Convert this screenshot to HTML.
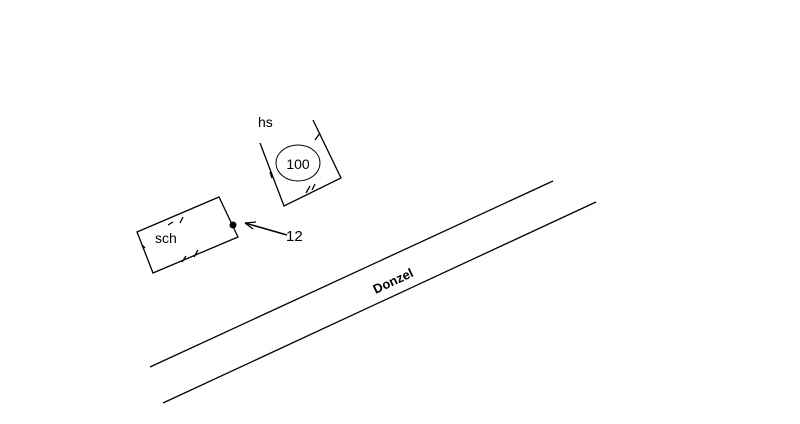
<!DOCTYPE html>
<html><head><style>body{margin:0;background:#fff}</style></head><body>
<svg width="800" height="419" xmlns="http://www.w3.org/2000/svg" font-family="Liberation Sans, sans-serif">
<rect width="800" height="419" fill="#fff"/>
<g stroke="#000" stroke-width="1.3" fill="none">
<line x1="150" y1="367" x2="553" y2="181"/>
<line x1="163" y1="403" x2="596" y2="202"/>
<polygon points="137,232 219,197 238,237 153,273"/>
<polyline points="260,143 284,206 341,178 313,120"/>
<ellipse cx="298" cy="163" rx="22" ry="18" stroke-width="1"/>
<line x1="245" y1="223" x2="287" y2="235" stroke-width="1.5"/>
<path d="M245 223 L256 222 M245 223 L253 229"/>
<path d="M168 225 l5 -3 M180 223 l3 -6 M182 262 l4 -6 M194 257 l4 -7 M142 245 l3 3 M306 193 l4 -7 M312 190 l3 -6 M315 140 l5 -7 M272 178 l-2 -6"/>
</g>
<circle cx="233" cy="225" r="3.5" fill="#000"/>
<text x="258" y="127" font-size="14">hs</text>
<text x="298" y="169" font-size="14" text-anchor="middle">100</text>
<text x="155" y="243" font-size="14">sch</text>
<text x="286" y="241" font-size="15">12</text>
<text x="395" y="285" font-size="13" font-weight="bold" text-anchor="middle" transform="rotate(-25 395 285)">Donzel</text>
</svg>
</body></html>
